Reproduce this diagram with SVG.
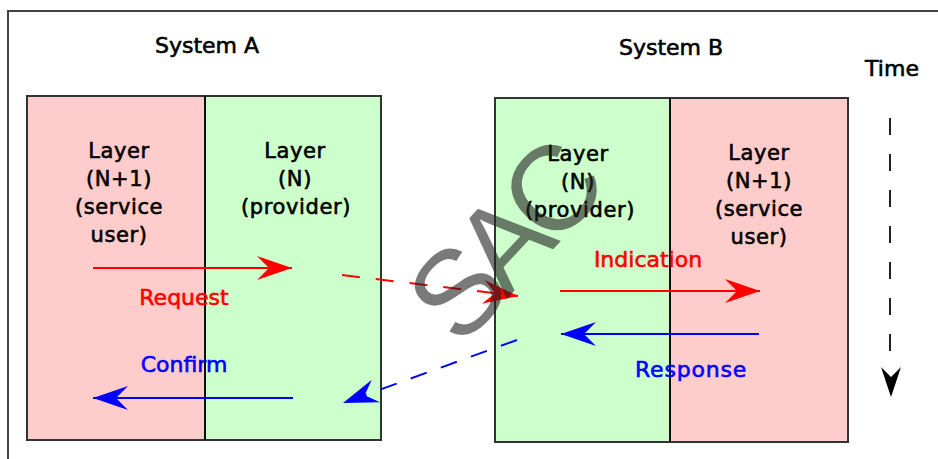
<svg xmlns="http://www.w3.org/2000/svg" width="938" height="459" viewBox="0 0 938 459">
<defs>
<style>
.lbl{font-family:"DejaVu Sans","Liberation Sans",sans-serif;font-size:21px;fill:#000;stroke:#000;stroke-width:0.6px;text-anchor:middle;letter-spacing:0.6px}
.ttl{font-family:"DejaVu Sans","Liberation Sans",sans-serif;font-size:22px;fill:#000;stroke:#000;stroke-width:0.6px;text-anchor:middle}
.red{font-family:"DejaVu Sans","Liberation Sans",sans-serif;font-size:22px;fill:#FF0000;stroke:#FF0000;stroke-width:0.6px;text-anchor:middle}
.blue{font-family:"DejaVu Sans","Liberation Sans",sans-serif;font-size:22px;fill:#0000FF;stroke:#0000FF;stroke-width:0.6px;text-anchor:middle}
.pink{fill:#FFCCCC}
.green{fill:#CCFFCC}
.border{fill:none;stroke:#333;stroke-width:2}
.div{stroke:#111;stroke-width:2}
.rl{stroke:#FF0000;stroke-width:2;fill:none}
.bl{stroke:#0000FF;stroke-width:2;fill:none}
</style>
<marker id="ahR" markerUnits="userSpaceOnUse" markerWidth="40" markerHeight="30" refX="36" refY="13" orient="auto" viewBox="0 0 40 30">
<path d="M36,13 L1,1 L13,13 L1,25 Z" fill="#FF0000"/>
</marker>
<marker id="ahB" markerUnits="userSpaceOnUse" markerWidth="40" markerHeight="30" refX="36" refY="13" orient="auto" viewBox="0 0 40 30">
<path d="M36,13 L1,1 L13,13 L1,25 Z" fill="#0000FF"/>
</marker>
</defs>
<rect width="938" height="459" fill="#fff"/>
<path d="M8,459 L8,11 L938,11" fill="none" stroke="#444" stroke-width="2"/>

<g id="systemA">
<rect class="pink" x="27" y="96" width="178" height="344"/>
<rect class="green" x="205" y="96" width="176" height="344"/>
<rect class="border" x="27" y="96" width="354" height="344"/>
<line class="div" x1="205" y1="96" x2="205" y2="440"/>
<text class="ttl" x="207" y="53">System A</text>
<text class="lbl" x="119" y="158">Layer</text>
<text class="lbl" x="119" y="186">(N+1)</text>
<text class="lbl" x="119" y="214">(service</text>
<text class="lbl" x="119" y="242">user)</text>
<text class="lbl" x="295" y="158">Layer</text>
<text class="lbl" x="295" y="186">(N)</text>
<text class="lbl" x="296" y="214">(provider)</text>
</g>

<g id="systemB">
<rect class="green" x="495" y="98" width="175" height="344"/>
<rect class="pink" x="670" y="98" width="178" height="344"/>
<rect class="border" x="495" y="98" width="353" height="344"/>
<line class="div" x1="670" y1="98" x2="670" y2="442"/>
<text class="ttl" x="671" y="55">System B</text>
<text class="lbl" x="578" y="161">Layer</text>
<text class="lbl" x="578" y="189">(N)</text>
<text class="lbl" x="580" y="217">(provider)</text>
<text class="lbl" x="759" y="160">Layer</text>
<text class="lbl" x="759" y="188">(N+1)</text>
<text class="lbl" x="759" y="216">(service</text>
<text class="lbl" x="759" y="244">user)</text>
</g>

<g id="time">
<text class="ttl" x="892" y="76">Time</text>
<line x1="890" y1="118" x2="890" y2="352" stroke="#222" stroke-width="2" stroke-dasharray="17 19"/>
<path d="M891,397 L881,367 L891,377 L901,367 Z" fill="#000"/>
</g>

<g id="connectors">
<line class="rl" x1="93" y1="268" x2="292" y2="268" marker-end="url(#ahR)"/>
<line class="rl" x1="342" y1="275" x2="518" y2="296" stroke-dasharray="18 16" marker-end="url(#ahR)"/>
<line class="rl" x1="560" y1="291" x2="760" y2="291" marker-end="url(#ahR)"/>
<line class="bl" x1="759" y1="334" x2="561" y2="334" marker-end="url(#ahB)"/>
<line class="bl" x1="517" y1="340" x2="343" y2="403" stroke-dasharray="17 15" marker-end="url(#ahB)"/>
<line class="bl" x1="293" y1="398" x2="93" y2="398" marker-end="url(#ahB)"/>
</g>

<g id="labels">
<text class="red" x="184" y="305">Request</text>
<text class="red" x="648" y="267">Indication</text>
<text class="blue" x="184" y="372">Confirm</text>
<text class="blue" x="691" y="377" letter-spacing="0.8">Response</text>
</g>

<text x="532" y="272" transform="rotate(-47 532 272)" font-family="Liberation Sans, Arial, sans-serif" font-size="120" letter-spacing="-12" fill="#222" fill-opacity="0.6" text-anchor="middle">SAC</text>
</svg>
